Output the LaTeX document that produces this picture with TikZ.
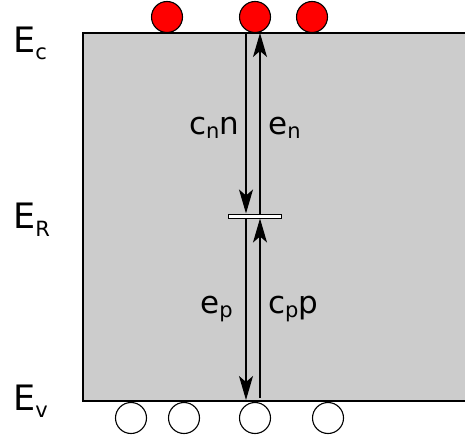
\documentclass[tikz,border=0pt]{standalone}
\usepackage{fontspec}
\setmainfont{DejaVu Sans}
\usetikzlibrary{arrows.meta}
\newcommand{\mysub}[2]{\raisebox{-#2}{\fontsize{21}{21}\selectfont #1}}
\begin{document}
\begin{tikzpicture}[x=1pt,y=-1pt,
  elec/.style={circle,draw,line width=1.1pt,fill=red,minimum size=31pt,inner sep=0pt},
  hole/.style={circle,draw,line width=1.1pt,fill=white,minimum size=31pt,inner sep=0pt},
  trans/.style={line width=1.3pt,-{Stealth[length=24pt,width=14pt,inset=6pt]}},
  biglab/.style={anchor=base west,inner sep=0pt,font=\fontsize{35}{38}\selectfont},
  lab/.style={anchor=base west,inner sep=0pt,font=\fontsize{31}{34}\selectfont}]
\useasboundingbox (0,0) rectangle (465,438);
% band region
\fill[gray!40] (83,33) rectangle (466,401);
\draw[line width=1.5pt] (466,33) -- (83,33) -- (83,401) -- (466,401);
% carriers
\node[elec] (e1) at (167,17) {};
\node[elec] (e2) at (255,17) {};
\node[elec] (e3) at (312,17) {};
\node[hole] (h1) at (131,418) {};
\node[hole] (h2) at (184,418) {};
\node[hole] (h3) at (255,418) {};
\node[hole] (h4) at (328,418) {};
% trap level
\node[draw,fill=white,line width=1pt,minimum width=53pt,minimum height=4pt,inner sep=0pt] (trap) at (254.5,216) {};
\coordinate (ca) at (246,33);
\coordinate (cb) at (260,33);
\coordinate (va) at (246,400);
\coordinate (vb) at (260,398);
% transitions
\draw[trans] (ca) -- (ca |- trap.north);
\draw[trans] (cb |- trap.north) -- (cb);
\draw[trans] (va |- trap.south) -- (va);
\draw[trans] (vb) -- (vb |- trap.south);
% labels
\node[biglab] (Ec) at (13,53) {E\mysub{c}{7pt}};
\node[biglab] (ER) at (13,229) {E\mysub{R}{8pt}};
\node[biglab] (Ev) at (13,410) {E\mysub{v}{7pt}};
\node[lab] (cnn) at (189,135) {c\mysub{n}{4pt}n};
\node[lab] (en) at (268,135) {e\mysub{n}{4pt}};
\node[lab] (ep) at (200,313) {e\mysub{p}{4pt}};
\node[lab] (cpp) at (268,313) {c\mysub{p}{4pt}p};
\end{tikzpicture}
\end{document}
